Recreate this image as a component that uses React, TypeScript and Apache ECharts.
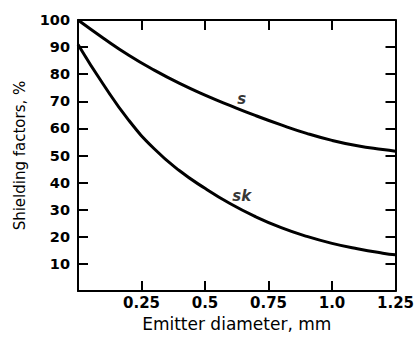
import React, { useEffect, useRef } from "react";
import * as echarts from "echarts";

const xValues = [0, 0.1, 0.2, 0.3, 0.4, 0.5, 0.6, 0.7, 0.8, 0.9, 1.0, 1.1, 1.2, 1.25];
const sValues = [100, 93.3, 87.0, 81.5, 76.6, 72.3, 68.4, 64.7, 61.3, 58.2, 55.6, 53.6, 52.2, 51.6];
const skValues = [91, 76.2, 63.0, 52.5, 44.4, 37.9, 32.2, 27.4, 23.4, 20.2, 17.6, 15.6, 14.0, 13.4];
const xTicks = [0.25, 0.5, 0.75, 1.0, 1.25];
const yTicks = [10, 20, 30, 40, 50, 60, 70, 80, 90, 100];
const curveLabels = [
  { name: "s", x: 0.645, y: 70.8 },
  { name: "sk", x: 0.645, y: 35 },
];

const FONT = "DejaVu Sans";

export default function App() {
  const ref = useRef<HTMLDivElement>(null);
  useEffect(() => {
    if (!ref.current) return;
    const chart = echarts.init(ref.current, undefined, { renderer: "svg" });
    const axisLine = { show: true, onZero: false, lineStyle: { color: "#000", width: 2 } };
    const tickStyle = { show: true, inside: true, length: 10, lineStyle: { color: "#000", width: 2 } };
    const sData = xValues.map((x, i) => [x, sValues[i]]);
    const skData = xValues.map((x, i) => [x, skValues[i]]);
    chart.setOption({
      animation: false,
      backgroundColor: "#fff",
      grid: { left: 78, right: 12, top: 20, bottom: 40, containLabel: false },
      xAxis: [
        {
          type: "value",
          position: "bottom",
          min: 0,
          max: 1.25,
          interval: 0.25,
          axisLine,
          axisTick: tickStyle,
          splitLine: { show: false },
          axisLabel: {
            margin: 4,
            color: "#000",
            fontFamily: FONT,
            fontWeight: "bold",
            fontSize: 15,
            formatter: (v: number) => {
              const t = xTicks.find((k) => Math.abs(k - v) < 1e-6);
              if (t === undefined) return "";
              return t === 1 ? "1.0" : String(t);
            },
          },
          name: "Emitter diameter, mm",
          nameLocation: "middle",
          nameGap: 16,
          nameTextStyle: { color: "#000", fontFamily: FONT, fontSize: 17 },
        },
        {
          type: "value",
          position: "top",
          min: 0,
          max: 1.25,
          interval: 0.25,
          axisLine,
          axisTick: tickStyle,
          splitLine: { show: false },
          axisLabel: { show: false },
        },
      ],
      yAxis: [
        {
          type: "value",
          position: "left",
          min: 0,
          max: 100,
          interval: 10,
          axisLine,
          axisTick: tickStyle,
          splitLine: { show: false },
          axisLabel: {
            margin: 8,
            color: "#000",
            fontFamily: FONT,
            fontWeight: "bold",
            fontSize: 14.5,
            formatter: (v: number) => (yTicks.includes(v) ? String(v) : ""),
          },
          name: "Shielding factors, %",
          nameLocation: "middle",
          nameGap: 51,
          nameTextStyle: { color: "#000", fontFamily: FONT, fontSize: 15 },
        },
        {
          type: "value",
          position: "right",
          min: 0,
          max: 100,
          interval: 10,
          axisLine,
          axisTick: tickStyle,
          splitLine: { show: false },
          axisLabel: { show: false },
        },
      ],
      series: [
        {
          type: "line",
          data: sData,
          smooth: true,
          showSymbol: false,
          lineStyle: { color: "#000", width: 3 },
        },
        {
          type: "line",
          data: skData,
          smooth: true,
          showSymbol: false,
          lineStyle: { color: "#000", width: 3 },
        },
        {
          type: "scatter",
          symbolSize: 1,
          itemStyle: { color: "rgba(0,0,0,0)" },
          data: curveLabels.map((c) => ({ name: c.name, value: [c.x, c.y] })),
          label: {
            show: true,
            position: "inside",
            formatter: (p: any) => p.name,
            color: "#000",
            fontFamily: FONT,
            fontStyle: "italic",
            fontWeight: "bold",
            fontSize: 15,
          },
        },
      ],
    });
    return () => chart.dispose();
  }, []);
  return <div ref={ref} style={{ width: 417, height: 337, position: "absolute", left: 0, top: 0 }} />;
}
